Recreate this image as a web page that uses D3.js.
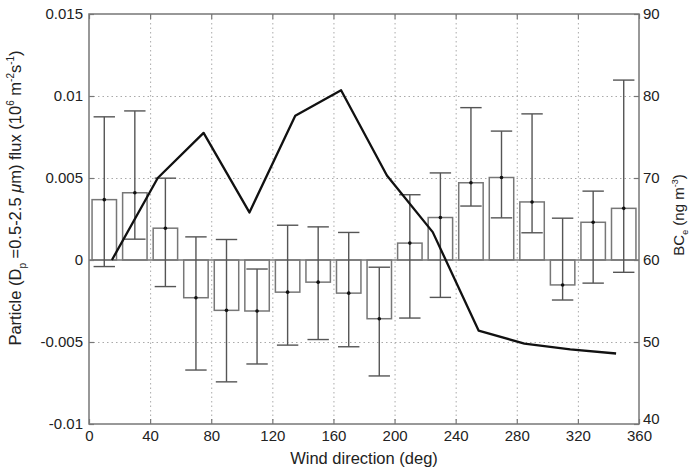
<!DOCTYPE html>
<html>
  <head>
    <title>flux vs wind direction</title>
    <meta charset="UTF-8" />
    <script src="https://d3js.org/d3.v7.min.js"></script>
    <style>
        body { margin: 0; background: #fff; }
        text { font-family: "Liberation Sans", Arial, sans-serif; fill: #222; }
        .tick text { font-size: 15px; }
        .grid line { stroke: #aaa; stroke-dasharray: 1.5,3; }
        .bar { fill: #fff; stroke: #777; stroke-width: 1.5; }
        .err { stroke: #555; stroke-width: 1.4; }
    </style>
  </head>
  <body>
    <script>
        // bar centres (deg) and particle flux
        var dirs = [10, 30, 50, 70, 90, 110, 130, 150, 170, 190, 210, 230, 250, 270, 290, 310, 330, 350];
        var flux = [0.00368, 0.00410, 0.00194, -0.00230, -0.00307, -0.00311, -0.00196, -0.00135, -0.00202,
                    -0.00358, 0.00103, 0.00259, 0.00471, 0.00503, 0.00354, -0.00152, 0.00230, 0.00315];
        var fluxHi = [0.00873, 0.00909, 0.00499, 0.00141, 0.00125, -0.00055, 0.00212, 0.00202, 0.00168,
                      -0.00044, 0.00398, 0.00531, 0.00929, 0.00786, 0.00891, 0.00255, 0.00420, 0.01097];
        var fluxLo = [-0.00040, 0.00127, -0.00162, -0.00671, -0.00743, -0.00634, -0.00519, -0.00485, -0.00529,
                      -0.00707, -0.00354, -0.00228, 0.00329, 0.00257, 0.00166, -0.00244, -0.00141, -0.00075];

        // BC line
        var bcDirs = [15, 45, 75, 105, 135, 165, 195, 225, 255, 285, 315, 345];
        var bc = [60.0, 70.0, 75.5, 65.8, 77.6, 80.7, 70.3, 63.4, 51.4, 49.8, 49.1, 48.6];

        var xTicks = [0, 40, 80, 120, 160, 200, 240, 280, 320, 360];
        var yTicks = [-0.01, -0.005, 0, 0.005, 0.01, 0.015];
        var yLabels = ["-0.01", "-0.005", "0", "0.005", "0.01", "0.015"];
        var y2Ticks = [40, 50, 60, 70, 80, 90];

        var W = 693, H = 469;
        var margin = {left: 89, top: 14, right: 54, bottom: 45};
        var width = W - margin.left - margin.right,
            height = H - margin.top - margin.bottom;

        var svg = d3.select("body").append("svg")
            .attr("width", W).attr("height", H);
        var g = svg.append("g")
            .attr("transform", "translate(" + margin.left + "," + margin.top + ")");

        var x = d3.scaleLinear().domain([0, 360]).range([0, width]);
        var y = d3.scaleLinear().domain([-0.01, 0.015]).range([height, 0]);
        var y2 = d3.scaleLinear().domain([40, 90]).range([height, 0]);

        // grid
        g.append("g").attr("class", "grid")
            .call(d3.axisBottom(x).tickValues(xTicks.slice(1, -1)).tickSize(height).tickFormat(""))
            .call(a => a.select(".domain").remove());
        g.append("g").attr("class", "grid")
            .call(d3.axisLeft(y).tickValues([-0.005, 0.005, 0.01]).tickSize(-width).tickFormat(""))
            .call(a => a.select(".domain").remove());

        // bars
        var bw = 16;
        g.selectAll("rect.bar")
            .data(dirs)
            .enter().append("rect")
            .attr("class", "bar")
            .attr("x", d => x(d - bw / 2))
            .attr("width", x(bw) - x(0))
            .attr("y", (d, i) => y(Math.max(0, flux[i])))
            .attr("height", (d, i) => Math.abs(y(flux[i]) - y(0)));

        // baseline
        g.append("line")
            .attr("x1", 0).attr("x2", width)
            .attr("y1", y(0)).attr("y2", y(0))
            .attr("stroke", "#777").attr("stroke-width", 1.5);

        // error bars
        var cw = 14;
        var eb = g.selectAll("g.eb").data(dirs).enter().append("g");
        eb.append("line").attr("class", "err")
            .attr("x1", d => x(d)).attr("x2", d => x(d))
            .attr("y1", (d, i) => y(fluxLo[i])).attr("y2", (d, i) => y(fluxHi[i]));
        eb.append("line").attr("class", "err")
            .attr("x1", d => x(d - cw / 2)).attr("x2", d => x(d + cw / 2))
            .attr("y1", (d, i) => y(fluxHi[i])).attr("y2", (d, i) => y(fluxHi[i]));
        eb.append("line").attr("class", "err")
            .attr("x1", d => x(d - cw / 2)).attr("x2", d => x(d + cw / 2))
            .attr("y1", (d, i) => y(fluxLo[i])).attr("y2", (d, i) => y(fluxLo[i]));
        eb.append("circle")
            .attr("cx", d => x(d)).attr("cy", (d, i) => y(flux[i]))
            .attr("r", 1.8).attr("fill", "#111");

        // BC line
        var line = d3.line()
            .x((d, i) => x(bcDirs[i]))
            .y(d => y2(d));
        g.append("path")
            .datum(bc)
            .attr("d", line)
            .attr("fill", "none")
            .attr("stroke", "#111")
            .attr("stroke-width", 2.3)
            .attr("stroke-linejoin", "round");

        // frame + axes (ticks inside)
        g.append("rect")
            .attr("width", width).attr("height", height)
            .attr("fill", "none").attr("stroke", "#777").attr("stroke-width", 1.5);

        function clean(a) {
            a.select(".domain").remove();
            a.selectAll(".tick line").attr("stroke", "#777").attr("stroke-width", 1.2);
        }
        g.append("g")
            .attr("transform", "translate(0," + height + ")")
            .call(d3.axisBottom(x).tickValues(xTicks).tickSize(-5).tickPadding(6).tickFormat(d3.format("d")))
            .call(clean);
        g.append("g")
            .call(d3.axisTop(x).tickValues(xTicks).tickSize(-5).tickFormat(""))
            .call(clean);
        g.append("g")
            .call(d3.axisLeft(y).tickValues(yTicks).tickSize(-5).tickPadding(6)
                .tickFormat((d, i) => yLabels[i]))
            .call(clean);
        g.append("g")
            .attr("transform", "translate(" + width + ",0)")
            .call(d3.axisRight(y2).tickValues(y2Ticks).tickSize(-5).tickPadding(4))
            .call(clean)
            // lift the bottom "40" a little so it clears "360"
            .call(a => a.selectAll(".tick text").filter(d => d === 40).attr("dy", "-0.05em"));

        // axis titles
        svg.append("text")
            .attr("x", margin.left + width / 2).attr("y", 464)
            .attr("text-anchor", "middle")
            .style("font-size", "16.5px")
            .text("Wind direction (deg)");

        var yl = svg.append("text")
            .attr("transform", "translate(21,198) rotate(-90)")
            .attr("text-anchor", "middle")
            .style("font-size", "16.5px");
        yl.append("tspan").text("Particle (D");
        yl.append("tspan").attr("dy", 5).style("font-size", "10px").text("p");
        yl.append("tspan").attr("dy", -5).text(" =0.5-2.5 ");
        yl.append("tspan").style("font-style", "italic").text("\u03bc");
        yl.append("tspan").text("m) flux (10");
        yl.append("tspan").attr("dy", -7).style("font-size", "10px").text("6");
        yl.append("tspan").attr("dy", 7).text(" m");
        yl.append("tspan").attr("dy", -7).style("font-size", "10px").text("-2");
        yl.append("tspan").attr("dy", 7).text("s");
        yl.append("tspan").attr("dy", -7).style("font-size", "10px").text("-1");
        yl.append("tspan").attr("dy", 7).text(")");

        var yr = svg.append("text")
            .attr("transform", "translate(684,215) rotate(-90)")
            .attr("text-anchor", "middle")
            .style("font-size", "15px");
        yr.append("tspan").text("BC");
        yr.append("tspan").attr("dy", 4).style("font-size", "9px").text("e");
        yr.append("tspan").attr("dy", -4).text(" (ng m");
        yr.append("tspan").attr("dy", -6).style("font-size", "9px").text("-3");
        yr.append("tspan").attr("dy", 6).text(")");
    </script>
  </body>
</html>
